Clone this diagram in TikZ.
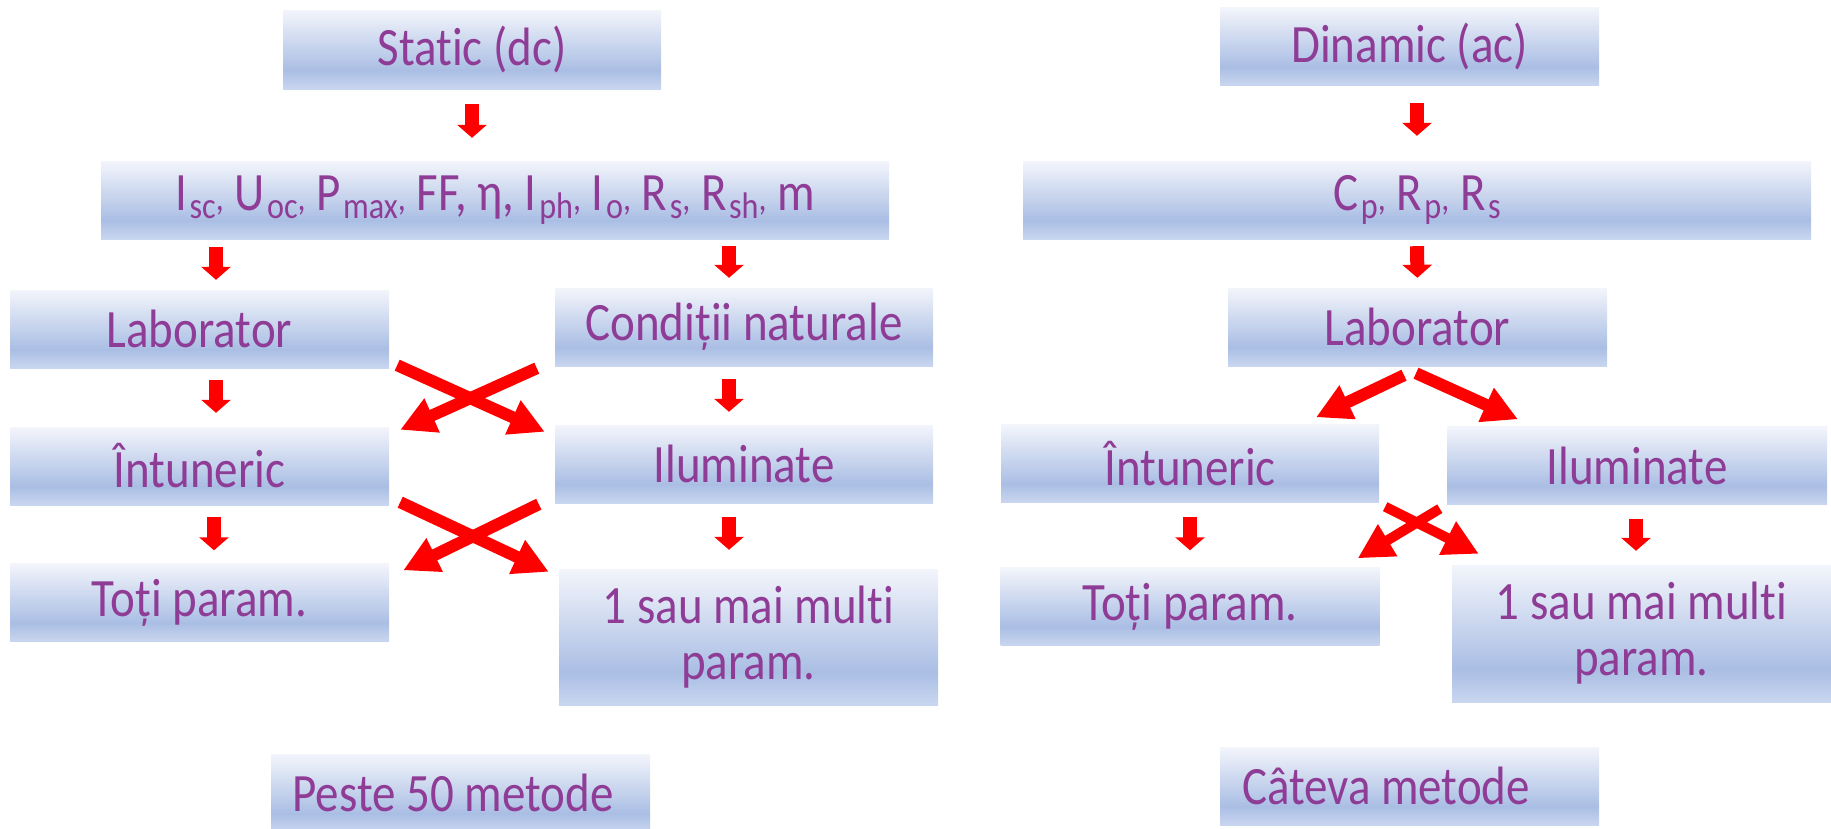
\documentclass[tikz,border=0pt]{standalone}
\usepackage{fontspec}
\setmainfont{Carlito}[FakeStretch=0.87,Ligatures=NoCommon]
\usetikzlibrary{arrows.meta}
\definecolor{gtop}{RGB}{243,245,251}
\definecolor{gmid}{RGB}{170,190,228}
\definecolor{gbot}{RGB}{201,214,239}
\definecolor{txt}{RGB}{142,60,150}
\pgfdeclareverticalshading{boxshade}{100bp}{color(0bp)=(gbot); color(25bp)=(gbot); color(37bp)=(gmid); color(75bp)=(gtop); color(100bp)=(gtop)}
\newcommand{\subx}[1]{\hspace{2.5pt}\raisebox{-8pt}{\fontsize{37}{37}\selectfont #1}}
\newcommand{\smc}{{\fontsize{37}{37}\selectfont ,}}
\newcommand{\nl}{\kern0pt }
\begin{document}
\begin{tikzpicture}[x=1pt,y=-1pt,
  box/.style={shade, shading=boxshade, minimum width=379pt, minimum height=78pt, inner sep=0pt, text=txt, font=\fontsize{54}{56}\selectfont, align=center},
  darr/.style={draw=red, line width=14pt, -{Triangle[length=13pt,width=29pt]}},
  xarr/.style={draw=red, line width=12pt, -{Triangle[length=35pt,width=35pt]}}]
\useasboundingbox (0,0) rectangle (1831,828);

% left column
\node[box, minimum width=378pt, minimum height=79pt] (static) at (472,49.5) {Stat\nl ic (dc)};
\node[box, minimum width=788pt] (params) at (495,200) {I\subx{sc}\smc{} U\subx{oc}\smc{} P\subx{max}\smc{} FF, η, I\subx{ph}\smc{} I\subx{o}\smc{} R\subx{s}\smc{} R\subx{sh}\smc{} m};
\node[box] (labL) at (199.5,329) {Laborator};
\node[box, minimum width=378pt] (cond) at (744,327) {Condi\nl ț\nl i\nl i naturale};
\node[box] (intL) at (199.5,466) {Întuneric};
\node[box, minimum width=378pt] (ilumL) at (744,464) {Iluminate};
\node[box] (totiL) at (199.5,602.5) {To\nl ț\nl i param.};
\node[box, minimum height=136pt] (unL) at (748.5,637) {1 sau mai mult\nl i\\param.};
\node[box] (peste) at (460.5,793) {\hspace*{-15pt}Peste 50 metode};

% right column
\node[box] (dyn) at (1409.5,46.5) {Dinamic (ac)};
\node[box, minimum width=788pt] (cp) at (1417,200) {C\subx{p}\smc{} R\subx{p}\smc{} R\subx{s}};
\node[box] (labR) at (1417.5,327) {Laborator};
\node[box, minimum width=378pt] (intR) at (1190,463.5) {Întuneric};
\node[box, minimum width=380pt] (ilumR) at (1637,465.5) {Iluminate};
\node[box] (totiR) at (1190,606.5) {To\nl ț\nl i param.};
\node[box, minimum height=137pt] (unR) at (1641.5,633.5) {1 sau mai mult\nl i\\param.};
\node[box] (cateva) at (1409.5,786) {\hspace*{-47pt}Câteva metode};

% short down arrows
\draw[darr, shorten <=15pt, shorten >=23pt] (static.south) -- (static.south |- params.north);
\draw[darr, shorten <=8pt, shorten >=10pt] ([xshift=16.5pt]labL.north |- params.south) -- ([xshift=16.5pt]labL.north);
\draw[darr, shorten <=7pt, shorten >=10pt] ([xshift=-15pt]cond.north |- params.south) -- ([xshift=-15pt]cond.north);
\draw[darr, shorten <=12pt, shorten >=14pt] ([xshift=16.5pt]labL.south) -- ([xshift=16.5pt]intL.north);
\draw[darr, shorten <=13pt, shorten >=13pt] ([xshift=-15pt]cond.south) -- ([xshift=-15pt]ilumL.north);
\draw[darr, shorten <=12pt, shorten >=13pt] ([xshift=14.5pt]intL.south) -- ([xshift=14.5pt]totiL.north);
\draw[darr, shorten <=14pt, shorten >=19pt] ([xshift=-15pt]ilumL.south) -- ([xshift=-19.5pt]unL.north);
\draw[darr, shorten <=17pt, shorten >=25pt] ([xshift=7.5pt]dyn.south) -- ([xshift=7.5pt]dyn.south |- cp.north);
\draw[darr, shorten <=7pt, shorten >=10pt] (cp.south) -- (labR.north);
\draw[darr, shorten <=14pt, shorten >=17pt] (intR.south) -- (totiR.north);
\draw[darr, shorten <=14pt, shorten >=14pt] ([xshift=-1pt]ilumR.south) -- ([xshift=-5.5pt]unR.north);

% crossing arrows, left
\draw[xarr] ([xshift=8pt,yshift=3pt]labL.south east) -- ([xshift=-10pt,yshift=-7pt]ilumL.north west);
\draw[xarr] ([xshift=-18pt,yshift=-2pt]cond.south west) -- ([xshift=11pt,yshift=-3pt]intL.north east);
\draw[xarr] ([xshift=11pt,yshift=3pt]intL.south east) -- ([xshift=-10pt,yshift=-3pt]unL.north west);
\draw[xarr] ([xshift=-16pt,yshift=-1pt]ilumL.south west) -- ([xshift=14pt,yshift=-7pt]totiL.north east);

% arrows, right
\draw[xarr] ([xshift=-13.5pt,yshift=-9pt]labR.south) -- ([xshift=126pt,yshift=7pt]intR.north);
\draw[xarr] ([xshift=-1.5pt,yshift=-7pt]labR.south) -- ([xshift=-119pt,yshift=7pt]ilumR.north);
\draw[xarr, line width=10pt] ([xshift=6pt,yshift=-4pt]intR.south east) -- ([xshift=27pt,yshift=11pt]unR.north west);
\draw[xarr, line width=10pt] ([xshift=-7pt,yshift=-4pt]ilumR.south west) -- ([xshift=-22pt,yshift=9pt]totiR.north east);
\end{tikzpicture}
\end{document}
